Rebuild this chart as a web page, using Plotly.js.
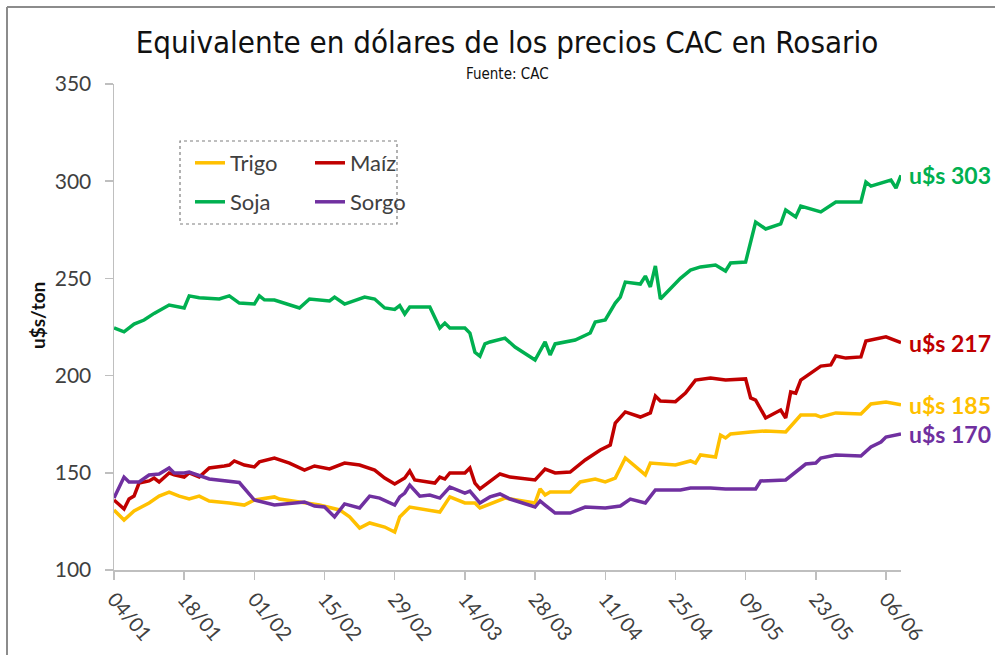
<!DOCTYPE html>
<html>
<head>
<meta charset="utf-8">
<script src="https://cdn.plot.ly/plotly-3.0.1.min.js"></script>
<style>html,body{margin:0;padding:0;background:#fff;}#chart{width:995px;height:655px;}</style>
</head>
<body>
<div id="chart"></div>
<script>
// ---- Data (u$s/ton) ----
const fechasTrigo = ["2016-01-04","2016-01-06","2016-01-08","2016-01-11","2016-01-13","2016-01-15","2016-01-17","2016-01-19","2016-01-21","2016-01-23","2016-01-27","2016-01-30","2016-02-01","2016-02-05","2016-02-06","2016-02-10","2016-02-14","2016-02-18","2016-02-20","2016-02-22","2016-02-24","2016-02-27","2016-02-29","2016-03-01","2016-03-03","2016-03-09","2016-03-11","2016-03-14","2016-03-16","2016-03-17","2016-03-19","2016-03-22","2016-03-28","2016-03-29","2016-03-30","2016-03-31","2016-04-04","2016-04-06","2016-04-09","2016-04-11","2016-04-13","2016-04-15","2016-04-19","2016-04-20","2016-04-25","2016-04-28","2016-04-29","2016-04-30","2016-05-03","2016-05-04","2016-05-05","2016-05-06","2016-05-10","2016-05-13","2016-05-17","2016-05-20","2016-05-23","2016-05-24","2016-05-27","2016-06-01","2016-06-03","2016-06-06","2016-06-09"];
const trigo = [130.9,125.7,130.4,134.5,138,140.1,138,136.5,138,135.5,134.5,133.4,136,137.6,136.5,135,133.4,130.9,127.3,121.6,124.2,122.1,119.5,127.3,132.4,129.8,137.6,134.5,134.5,131.9,134,137,134.5,141.7,138.6,140.1,140.1,145.3,146.8,145.3,147.3,157.6,148.9,155,154,156.1,155,159.2,158.1,169.4,167.9,170,171,171.5,171,179.7,179.7,178.7,180.8,180.2,185.4,186.4,185];

const fechasMaiz = ["2016-01-04","2016-01-06","2016-01-07","2016-01-08","2016-01-09","2016-01-11","2016-01-12","2016-01-13","2016-01-15","2016-01-16","2016-01-18","2016-01-19","2016-01-21","2016-01-22","2016-01-23","2016-01-26","2016-01-27","2016-01-28","2016-01-30","2016-02-01","2016-02-02","2016-02-05","2016-02-08","2016-02-11","2016-02-13","2016-02-16","2016-02-19","2016-02-22","2016-02-25","2016-02-27","2016-02-29","2016-03-02","2016-03-03","2016-03-04","2016-03-08","2016-03-09","2016-03-10","2016-03-11","2016-03-14","2016-03-15","2016-03-16","2016-03-17","2016-03-19","2016-03-21","2016-03-23","2016-03-28","2016-03-30","2016-04-01","2016-04-04","2016-04-07","2016-04-10","2016-04-12","2016-04-13","2016-04-15","2016-04-18","2016-04-20","2016-04-21","2016-04-22","2016-04-25","2016-04-27","2016-04-29","2016-05-02","2016-05-05","2016-05-09","2016-05-10","2016-05-11","2016-05-13","2016-05-16","2016-05-17","2016-05-18","2016-05-19","2016-05-20","2016-05-22","2016-05-24","2016-05-26","2016-05-27","2016-05-29","2016-06-01","2016-06-02","2016-06-06","2016-06-09"];
const maiz = [136,131.4,136.5,138,144.7,145.8,147.3,145.3,149.9,148.9,147.8,149.9,147.8,150.4,152.5,153.5,154,156.1,154,153,155.6,157.6,155,151.4,153.5,152,155,154,151.4,147.3,144.2,147.3,150.9,146.3,144.7,147.8,146.8,149.9,149.9,152.5,144.7,141.7,145.3,149.4,147.8,146.3,151.9,149.9,150.4,156.6,161.7,164.3,175.6,181.3,178.7,180.8,189.5,186.9,186.6,191,197.7,198.8,197.7,198.3,188.5,187.4,178.2,182.3,178.2,191.6,191,197.7,201.3,204.9,205.5,210.1,209,209.6,217.8,219.9,217];

const fechasSoja = ["2016-01-04","2016-01-06","2016-01-08","2016-01-10","2016-01-12","2016-01-15","2016-01-18","2016-01-19","2016-01-21","2016-01-25","2016-01-27","2016-01-29","2016-02-01","2016-02-02","2016-02-03","2016-02-05","2016-02-10","2016-02-12","2016-02-16","2016-02-17","2016-02-19","2016-02-23","2016-02-25","2016-02-27","2016-02-29","2016-03-01","2016-03-02","2016-03-03","2016-03-07","2016-03-09","2016-03-10","2016-03-11","2016-03-14","2016-03-15","2016-03-16","2016-03-17","2016-03-18","2016-03-19","2016-03-22","2016-03-24","2016-03-28","2016-03-30","2016-03-31","2016-04-01","2016-04-05","2016-04-07","2016-04-08","2016-04-09","2016-04-11","2016-04-13","2016-04-14","2016-04-15","2016-04-18","2016-04-19","2016-04-20","2016-04-21","2016-04-22","2016-04-26","2016-04-28","2016-04-30","2016-05-03","2016-05-05","2016-05-06","2016-05-09","2016-05-11","2016-05-13","2016-05-16","2016-05-17","2016-05-19","2016-05-20","2016-05-24","2016-05-27","2016-06-01","2016-06-02","2016-06-03","2016-06-07","2016-06-08","2016-06-09"];
const soja = [224.5,222.5,226.5,228.6,232,236.3,234.8,241,240,239.4,241,237.3,236.8,241,239,238.9,234.8,239.4,238.4,240.4,236.8,240.4,239.4,234.8,234,236,231.7,235.3,235.3,224.5,227,224.5,224.5,221.9,212,210,216.3,217.3,219.3,214.7,208,217.3,210.6,216.3,218.3,220.9,221.9,227.6,228.6,237.3,240.4,248.1,247.1,251.2,245.6,256.4,239.4,250,254.3,255.9,256.9,253.8,257.9,258.4,279,275.4,278,285.2,281.6,287.2,284.2,289.3,289.3,299.6,297.5,300.6,296.5,303];

const fechasSorgo = ["2016-01-04","2016-01-06","2016-01-07","2016-01-09","2016-01-11","2016-01-13","2016-01-15","2016-01-16","2016-01-18","2016-01-19","2016-01-23","2016-01-27","2016-01-29","2016-02-01","2016-02-05","2016-02-11","2016-02-13","2016-02-15","2016-02-17","2016-02-19","2016-02-22","2016-02-24","2016-02-26","2016-02-29","2016-03-01","2016-03-02","2016-03-03","2016-03-05","2016-03-07","2016-03-09","2016-03-11","2016-03-14","2016-03-15","2016-03-17","2016-03-19","2016-03-21","2016-03-23","2016-03-28","2016-03-29","2016-03-30","2016-04-01","2016-04-04","2016-04-07","2016-04-11","2016-04-14","2016-04-16","2016-04-19","2016-04-21","2016-04-26","2016-04-28","2016-05-02","2016-05-05","2016-05-11","2016-05-12","2016-05-17","2016-05-21","2016-05-23","2016-05-24","2016-05-27","2016-06-01","2016-06-03","2016-06-05","2016-06-06","2016-06-09"];
const sorgo = [137,147.8,145.3,145.3,148.9,149.4,152.5,149.9,149.9,150.4,146.8,145.3,145,136,133.4,135,132.9,132.4,127.3,134,131.9,138,137,133.4,137.6,139.6,143.7,138,138.6,137,142.7,139.6,140.6,134.5,137.6,139.1,136.5,132.4,135.5,133.4,129.3,129.3,132.4,131.9,132.9,136.5,134.5,141.2,141.2,142.2,142.2,141.7,141.7,145.8,146.3,154.5,155,157.6,159.2,158.6,163.3,165.8,168.4,170];

const nombres = ["Trigo", "Maíz", "Soja", "Sorgo"];
const colores = ["#FFC000", "#C00000", "#00B050", "#7030A0"];
const fechas = [fechasTrigo, fechasMaiz, fechasSoja, fechasSorgo];
const valores = [trigo, maiz, soja, sorgo];
const legendas = ["legend", "legend", "legend2", "legend2"];

const textFont = "Lato, 'Open Sans', sans-serif";
const titleFont = "'Liberation Sans Narrow', 'DejaVu Sans Condensed', sans-serif";

const traces = nombres.map((n, i) => ({
  type: "scatter", mode: "lines", name: n,
  x: fechas[i], y: valores[i],
  line: {color: colores[i], width: 3.5},
  legend: legendas[i],
  hoverinfo: "x+y+name"
}));

// end-of-line value labels
const endLabels = nombres.map((n, i) => ({
  x: fechas[i][fechas[i].length - 1],
  y: valores[i][valores[i].length - 1],
  xref: "x", yref: "y",
  text: "u$s " + Math.round(valores[i][valores[i].length - 1]),
  showarrow: false, xanchor: "left", yanchor: "middle", xshift: 6,
  font: {family: textFont, size: 23, color: colores[i], weight: "bold"}
}));

const legendBase = {
  orientation: "h", xanchor: "left", yanchor: "middle",
  entrywidth: 75, entrywidthmode: "pixels",
  bgcolor: "rgba(0,0,0,0)", borderwidth: 0,
  font: {family: textFont, size: 22, color: "#404040"},
  itemclick: false, itemdoubleclick: false, tracegroupgap: 0
};

const layout = {
  width: 995, height: 655,
  margin: {l: 114, r: 94, t: 84, b: 85},
  paper_bgcolor: "#ffffff", plot_bgcolor: "#ffffff",
  showlegend: true,
  title: {
    text: "Equivalente en dólares de los precios CAC en Rosario",
    x: (507 - 114) / 787, xref: "paper", xanchor: "center",
    font: {family: titleFont, size: 31, color: "#111111"},
    y: 0.935, yanchor: "middle"
  },
  xaxis: {
    type: "date",
    range: ["2016-01-04", "2016-06-09"],
    tick0: "2016-01-04", dtick: 14 * 86400000,
    tickformat: "%d/%m", tickangle: 50,
    ticks: "outside", ticklen: 8, tickcolor: "#bfbfbf", tickwidth: 1.5,
    showline: true, linecolor: "#bfbfbf", linewidth: 1.5,
    showgrid: false, zeroline: false,
    tickfont: {family: textFont, size: 20, color: "#404040"}
  },
  yaxis: {
    range: [100, 350], dtick: 50,
    ticks: "outside", ticklen: 8, tickcolor: "#bfbfbf", tickwidth: 1.5,
    ticklabelstandoff: 9,
    showline: true, linecolor: "#bfbfbf", linewidth: 1.5,
    showgrid: false, zeroline: false,
    tickfont: {family: textFont, size: 21, color: "#404040"}
  },
  legend: Object.assign({}, legendBase, {x: (190 - 114) / 787, y: (570 - 163) / 486}),
  legend2: Object.assign({}, legendBase, {x: (190 - 114) / 787, y: (570 - 202) / 486}),
  annotations: [
    {text: "Fuente: CAC", xref: "paper", yref: "paper",
     x: (507 - 114) / 787, y: (570 - 74) / 486, showarrow: false,
     xanchor: "center", yanchor: "middle",
     font: {family: titleFont, size: 15, color: "#111111"}},
    {text: "u$s/ton", xref: "paper", yref: "paper",
     x: (37 - 114) / 787, y: (570 - 316) / 486, showarrow: false, textangle: -90,
     xanchor: "center", yanchor: "middle",
     font: {family: textFont, size: 19, color: "#111111", weight: "bold"}}
  ].concat(endLabels),
  shapes: [
    {type: "rect", xref: "paper", yref: "paper",
     x0: (180 - 114) / 787, x1: (397 - 114) / 787,
     y0: (570 - 224) / 486, y1: (570 - 141) / 486,
     line: {color: "#7f7f7f", width: 1.2, dash: "dot"}, fillcolor: "rgba(0,0,0,0)"},
    {type: "line", xref: "paper", yref: "paper",
     x0: (7 - 114) / 787, x1: (995 - 114) / 787,
     y0: (570 - 7) / 486, y1: (570 - 7) / 486,
     line: {color: "#8c8c8c", width: 2}},
    {type: "line", xref: "paper", yref: "paper",
     x0: (7 - 114) / 787, x1: (7 - 114) / 787,
     y0: (570 - 7) / 486, y1: (570 - 655) / 486,
     line: {color: "#8c8c8c", width: 2}}
  ]
};

Plotly.newPlot("chart", traces, layout, {displayModeBar: false, staticPlot: true});
</script>
</body>
</html>
